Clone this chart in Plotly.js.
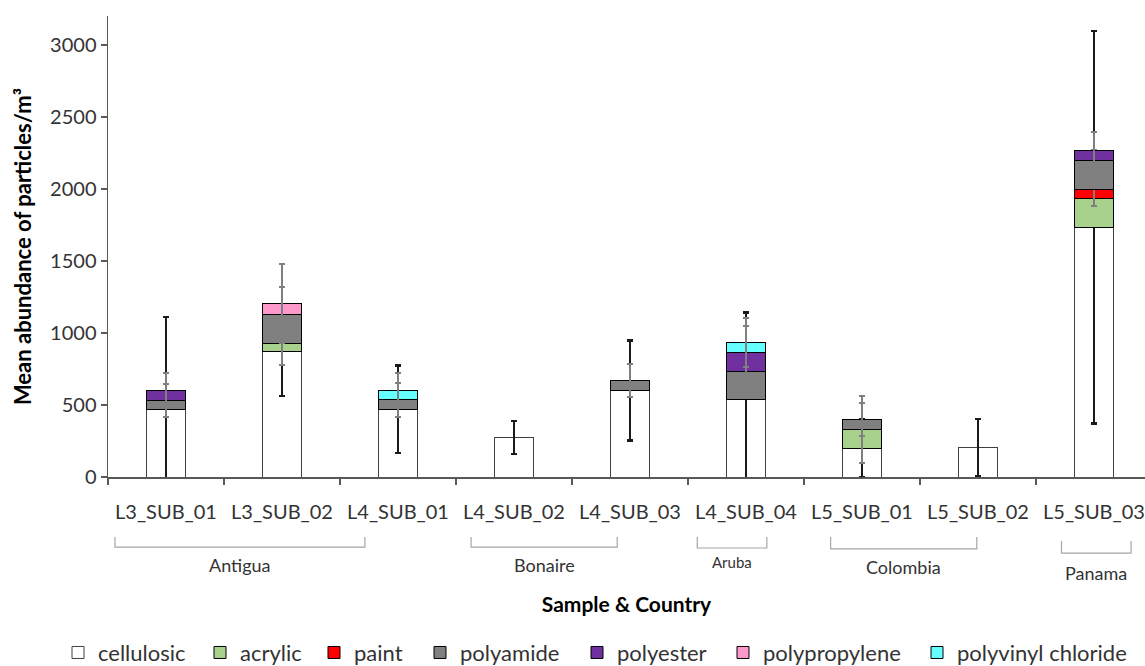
<!DOCTYPE html>
<html>
<head>
<meta charset="utf-8">
<script src="https://cdn.plot.ly/plotly-3.0.1.min.js"></script>
<style>html,body{margin:0;padding:0;background:#fff;}#chart{width:1145px;height:666px;}</style>
</head>
<body>
<div id="chart"></div>
<script>
const samples = ["L3_SUB_01","L3_SUB_02","L4_SUB_01","L4_SUB_02","L4_SUB_03","L4_SUB_04","L5_SUB_01","L5_SUB_02","L5_SUB_03"];
const cellulosic    = [470, 868, 470, 273, 600, 535, 200, 203, 1733];
const cellulosicErr = [640, 306, 305, 115, 347, 608, 200, 200, 1362];
const acrylic       = [null, 62, null, null, null, null, 131, null, 198];
const acrylicErr    = [null, 150, null, null, null, null, 234, null, 50];
const paint         = [null, null, null, null, null, null, null, null, 67];
const paintErr      = [null, null, null, null, null, null, null, null, 114];
const polyamide     = [60, 200, 65, null, 69, 196, 69, null, 199];
const polyamideErr  = [116, 187, 116, null, 116, 95, 116, null, 70];
const polyester     = [70, null, null, null, null, 135, null, null, 69];
const polyesterErr  = [120, null, null, null, null, 185, null, null, 127];
const polypropylene = [null, 74, null, null, null, null, null, null, null];
const polypropyleneErr = [null, 277, null, null, null, null, null, null, null];
const pvc           = [null, null, 65, null, null, 67, null, null, null];
const pvcErr        = [null, null, 120, null, null, 170, null, null, null];

const countries = ["Antigua","Bonaire","Aruba","Colombia","Panama"];

const FONT = "Lato, 'Open Sans', sans-serif";
const TXT = "#333333";

const legendIds = ["legend","legend2","legend3","legend4","legend5","legend6","legend7"];
const legendSymbolLeft = [73, 215, 329, 435, 592, 738, 932];

function series(name, vals, errs, color, errColor, lineColor, errW, idx) {
  return {
    type: "bar", name: name, x: samples, y: vals, legend: legendIds[idx],
    marker: {color: color, line: {color: lineColor, width: 1}},
    error_y: {type: "data", array: errs, visible: true, color: errColor, thickness: errW, width: 3},
    hoverinfo: "name+y"
  };
}

const data = [
  series("cellulosic", cellulosic, cellulosicErr, "#ffffff", "#1a1a1a", "#404040", 2.5, 0),
  series("acrylic", acrylic, acrylicErr, "#a9d18e", "#7f7f7f", "#000000", 2, 1),
  series("paint", paint, paintErr, "#ff0000", "#7f7f7f", "#000000", 2, 2),
  series("polyamide", polyamide, polyamideErr, "#808080", "#7f7f7f", "#000000", 2, 3),
  series("polyester", polyester, polyesterErr, "#7030a0", "#7f7f7f", "#000000", 2, 4),
  series("polypropylene", polypropylene, polypropyleneErr, "#ff99cc", "#7f7f7f", "#000000", 2, 5),
  series("polyvinyl chloride", pvc, pvcErr, "#66ffff", "#7f7f7f", "#000000", 2, 6)
];

const groupSpans = [[-0.44, 1.715], [2.63, 3.89], [4.58, 5.18], [5.73, 6.99], [7.72, 8.32]];
const groupBracketY = [[-0.130, -0.152], [-0.130, -0.152], [-0.130, -0.154], [-0.130, -0.156], [-0.139, -0.165]];
const groupLabelY = [-0.191, -0.191, -0.185, -0.195, -0.208];
const groupLabelSize = [18, 18, 15, 18, 18];

const shapes = groupSpans.map((s, i) => ({
  type: "path", xref: "x", yref: "paper",
  path: `M ${s[0]},${groupBracketY[i][0]} L ${s[0]},${groupBracketY[i][1]} L ${s[1]},${groupBracketY[i][1]} L ${s[1]},${groupBracketY[i][0]}`,
  line: {color: "#a6a6a6", width: 1.2}
}));

const annotations = countries.map((c, i) => ({
  text: c, xref: "x", yref: "paper",
  x: (groupSpans[i][0] + groupSpans[i][1]) / 2, y: groupLabelY[i],
  showarrow: false, xanchor: "center", yanchor: "middle",
  font: {family: FONT, size: groupLabelSize[i], color: TXT}
}));

const layout = {
  width: 1145, height: 666,
  margin: {l: 108, r: 0, t: 16, b: 189},
  paper_bgcolor: "#ffffff", plot_bgcolor: "#ffffff",
  barmode: "stack", bargap: 0.67,
  font: {family: FONT, color: TXT, size: 18},
  showlegend: true,
  xaxis: {
    type: "category", range: [-0.5, 8.44],
    showline: true, linecolor: "#595959", linewidth: 1.5,
    ticks: "outside", tickson: "boundaries", ticklen: 6, tickcolor: "#595959", tickwidth: 1.5,
    ticklabelstandoff: 16,
    tickfont: {family: FONT, size: 20, color: TXT},
    showgrid: false, zeroline: false,
    title: {text: "<b>Sample & Country</b>", standoff: 76, font: {family: FONT, size: 21, color: "#000"}}
  },
  yaxis: {
    range: [0, 3200], tickvals: [0, 500, 1000, 1500, 2000, 2500, 3000],
    showline: true, linecolor: "#595959", linewidth: 1.5,
    ticks: "outside", ticklen: 6, tickcolor: "#595959", tickwidth: 1.5,
    tickfont: {family: FONT, size: 20, color: TXT},
    showgrid: false, zeroline: false,
    title: {text: "<b>Mean abundance of particles/m³</b>", standoff: 12, font: {family: FONT, size: 22, color: "#000"}}
  },
  shapes: shapes,
  annotations: annotations
};

legendIds.forEach((id, i) => {
  layout[id] = {
    orientation: "h", xref: "container", yref: "container",
    x: (legendSymbolLeft[i] - 15) / 1145, xanchor: "left",
    y: 0.02, yanchor: "middle",
    font: {family: FONT, size: 22, color: TXT},
    bgcolor: "rgba(0,0,0,0)"
  };
});

Plotly.newPlot("chart", data, layout, {displayModeBar: false, staticPlot: true});
</script>
</body>
</html>
